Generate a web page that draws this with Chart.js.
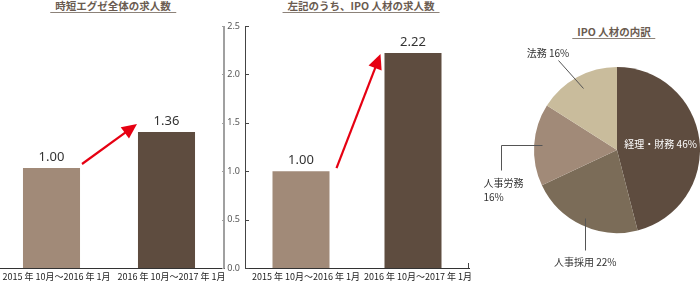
<!DOCTYPE html>
<html>
<head>
<meta charset="utf-8">
<script src="https://cdn.jsdelivr.net/npm/chart.js@4"></script>
<style>
body { margin: 0; width: 700px; height: 284px; position: relative; overflow: hidden; background: #fff; font-family: "Noto Sans CJK JP", sans-serif; }
canvas { position: absolute; }
.ttl { position: absolute; font-size: 10.5px; font-weight: bold; color: #6a5b50; line-height: 12px; padding: 0 5px; border-bottom: 1.5px solid #8c8279; transform: translateX(-50%); white-space: nowrap; }
</style>
</head>
<body>
<div class="ttl" style="left:113px;top:0">時短エグゼ全体の求人数</div>
<div class="ttl" style="left:361px;top:0">左記のうち、IPO 人材の求人数</div>
<div class="ttl" style="left:614px;top:26px">IPO 人材の内訳</div>
<canvas id="c1" width="238" height="284" style="left:-6px;top:0"></canvas>
<canvas id="c2" width="256" height="284" style="left:222px;top:0"></canvas>
<canvas id="c3" width="220" height="284" style="left:480px;top:0"></canvas>
<script>
// ===== データ =====
const periods = ['2015 年 10月〜2016 年 1月', '2016 年 10月〜2017 年 1月'];
const allJobs = [1.00, 1.36];   // 時短エグゼ全体（指数）
const ipoJobs = [1.00, 2.22];   // IPO 人材（指数）
const barColors = ['#a18a78', '#5e4c3f'];

const pieLabels = ['経理・財務', '人事採用', '人事労務', '法務'];
const pieShares = [46, 22, 16, 16];
const pieColors = ['#5e4c3f', '#7b6c58', '#a18a78', '#c9bc9c'];

const RED = '#e60012';
const FONT_JP = '"Noto Sans CJK JP", sans-serif';

// ===== 棒グラフ：数値ラベル・矢印・目盛り =====
const barDeco = {
    id: 'barDeco',
    afterDatasetsDraw(chart, args, opts) {
        const ctx = chart.ctx;
        const bars = chart.getDatasetMeta(0).data;
        const vals = chart.data.datasets[0].data;
        ctx.save();

        ctx.font = '13px "Noto Sans", sans-serif';
        ctx.fillStyle = '#333';
        ctx.textAlign = 'center';
        ctx.textBaseline = 'middle';
        bars.forEach((b, i) => ctx.fillText(vals[i].toFixed(2), b.x, b.y - 11));

        // 矢印（1本目の右上 → 2本目の左上）
        const a = bars[0], b = bars[1];
        const x0 = a.x + a.width / 2 + opts.from[0], y0 = a.y + opts.from[1];
        const x1 = b.x - b.width / 2 + opts.to[0], y1 = b.y + opts.to[1];
        const ang = Math.atan2(y1 - y0, x1 - x0);
        const hl = 15, hw = 7;
        const cs = Math.cos(ang), sn = Math.sin(ang);
        ctx.strokeStyle = RED;
        ctx.fillStyle = RED;
        ctx.lineWidth = 2.2;
        ctx.beginPath();
        ctx.moveTo(x0, y0);
        ctx.lineTo(x1 - cs * hl * 0.8, y1 - sn * hl * 0.8);
        ctx.stroke();
        ctx.beginPath();
        ctx.moveTo(x1, y1);
        ctx.lineTo(x1 - cs * hl - sn * hw, y1 - sn * hl + cs * hw);
        ctx.lineTo(x1 - cs * hl + sn * hw, y1 - sn * hl - cs * hw);
        ctx.closePath();
        ctx.fill();

        if (opts.axisTicks) {
            const y = chart.scales.y, area = chart.chartArea;
            const ys = y.ticks.map(t => Math.round(y.getPixelForValue(t.value)) + 0.5);
            ctx.lineWidth = 1;
            ctx.strokeStyle = '#444';
            ctx.beginPath();
            ys.forEach(py => { ctx.moveTo(area.left, py); ctx.lineTo(area.left + 4, py); });
            ctx.moveTo(area.right - 0.5, area.bottom);
            ctx.lineTo(area.right - 0.5, area.bottom - 5);
            ctx.stroke();

            // 左グラフ側の灰色の軸
            const gx = area.left - 21;
            ctx.strokeStyle = '#a0a0a0';
            ctx.lineWidth = 2;
            ctx.beginPath();
            ctx.moveTo(gx, y.top);
            ctx.lineTo(gx, y.bottom + 0.5);
            ctx.stroke();
            ctx.lineWidth = 1;
            ctx.beginPath();
            ys.forEach(py => { ctx.moveTo(gx - 5, py); ctx.lineTo(gx, py); });
            ctx.stroke();
        }
        ctx.restore();
    }
};

function barOptions(yMax, showY, deco, pad) {
    return {
        animation: false,
        responsive: false,
        layout: { padding: pad },
        plugins: { legend: { display: false }, tooltip: { enabled: false }, barDeco: deco },
        scales: {
            x: {
                grid: { display: false, drawTicks: false },
                border: { color: '#333', width: 1 },
                ticks: { autoSkip: false, maxRotation: 0, padding: 3, labelOffset: 5, color: '#222',
                         font: { family: FONT_JP, size: 9 } },
                afterFit: (s) => { s.height = 16; s.paddingLeft = 0; s.paddingRight = 0; },
            },
            y: {
                display: showY,
                min: 0,
                max: yMax,
                grid: { display: false, drawTicks: false },
                border: { color: '#444', width: 1 },
                ticks: { stepSize: 0.5, padding: 5, color: '#555', font: { family: '"Noto Sans", sans-serif', size: 9 },
                         callback: (v) => v.toFixed(1) },
                afterFit: (s) => {
                    if (!showY) return;
                    s.width = 23; s.paddingTop = 0; s.paddingBottom = 0;
                },
            },
        },
    };
}

new Chart(document.getElementById('c1'), {
    type: 'bar',
    data: {
        labels: periods,
        datasets: [{ data: allJobs, backgroundColor: barColors, barPercentage: 0.496, categoryPercentage: 1 }],
    },
    options: barOptions(2.42, false, { from: [2, -4], to: [-1, -8] }, { top: 26, right: 8, left: 0, bottom: 0 }),
    plugins: [barDeco],
});

new Chart(document.getElementById('c2'), {
    type: 'bar',
    data: {
        labels: periods,
        datasets: [{ data: ipoJobs, backgroundColor: barColors, barPercentage: 0.509, categoryPercentage: 1 }],
    },
    options: barOptions(2.5, true, { from: [7, -3], to: [-4, 1], axisTicks: true }, { top: 26, right: 9, left: 0, bottom: 0 }),
    plugins: [barDeco],
});

// ===== 円グラフ：ラベルと引き出し線 =====
const calloutLayout = [
    { f: 0.53, inside: true },
    { f: 0.9, path: [[0, 32]], tx: 0, ty: 13, align: 'center' },
    { f: 0.9, path: [[-41, 0], [0, 25]], tx: -18, ty: 13, align: 'left', split: true },
    { f: 0.85, path: [[-25, -28]], tx: -10, ty: -7, align: 'center' },
];

const pieCallouts = {
    id: 'pieCallouts',
    afterDatasetsDraw(chart) {
        const ctx = chart.ctx;
        const arcs = chart.getDatasetMeta(0).data;
        ctx.save();
        ctx.font = `10px ${FONT_JP}`;
        ctx.textBaseline = 'middle';
        arcs.forEach((arc, i) => {
            const lay = calloutLayout[i];
            const mid = (arc.startAngle + arc.endAngle) / 2;
            let px = arc.x + Math.cos(mid) * arc.outerRadius * lay.f;
            let py = arc.y + Math.sin(mid) * arc.outerRadius * lay.f;
            const text = `${pieLabels[i]} ${pieShares[i]}%`;
            if (lay.inside) {
                ctx.fillStyle = '#fff';
                ctx.textAlign = 'center';
                ctx.fillText(text, px, py);
                return;
            }
            ctx.strokeStyle = '#555';
            ctx.lineWidth = 1;
            ctx.beginPath();
            ctx.moveTo(Math.round(px) + 0.5, Math.round(py) + 0.5);
            lay.path.forEach(([dx, dy]) => {
                px += dx; py += dy;
                ctx.lineTo(Math.round(px) + 0.5, Math.round(py) + 0.5);
            });
            ctx.stroke();
            ctx.fillStyle = '#333';
            ctx.textAlign = lay.align;
            const lines = lay.split ? [pieLabels[i], `${pieShares[i]}%`] : [text];
            lines.forEach((ln, k) => ctx.fillText(ln, px + lay.tx, py + lay.ty + k * 14));
        });
        ctx.restore();
    }
};

new Chart(document.getElementById('c3'), {
    type: 'pie',
    data: {
        labels: pieLabels,
        datasets: [{ data: pieShares, backgroundColor: pieColors, borderWidth: 0 }],
    },
    options: {
        animation: false,
        responsive: false,
        layout: { padding: { left: 54, right: 0, top: 67, bottom: 51 } },
        plugins: { legend: { display: false }, tooltip: { enabled: false } },
    },
    plugins: [pieCallouts],
});
</script>
</body>
</html>
